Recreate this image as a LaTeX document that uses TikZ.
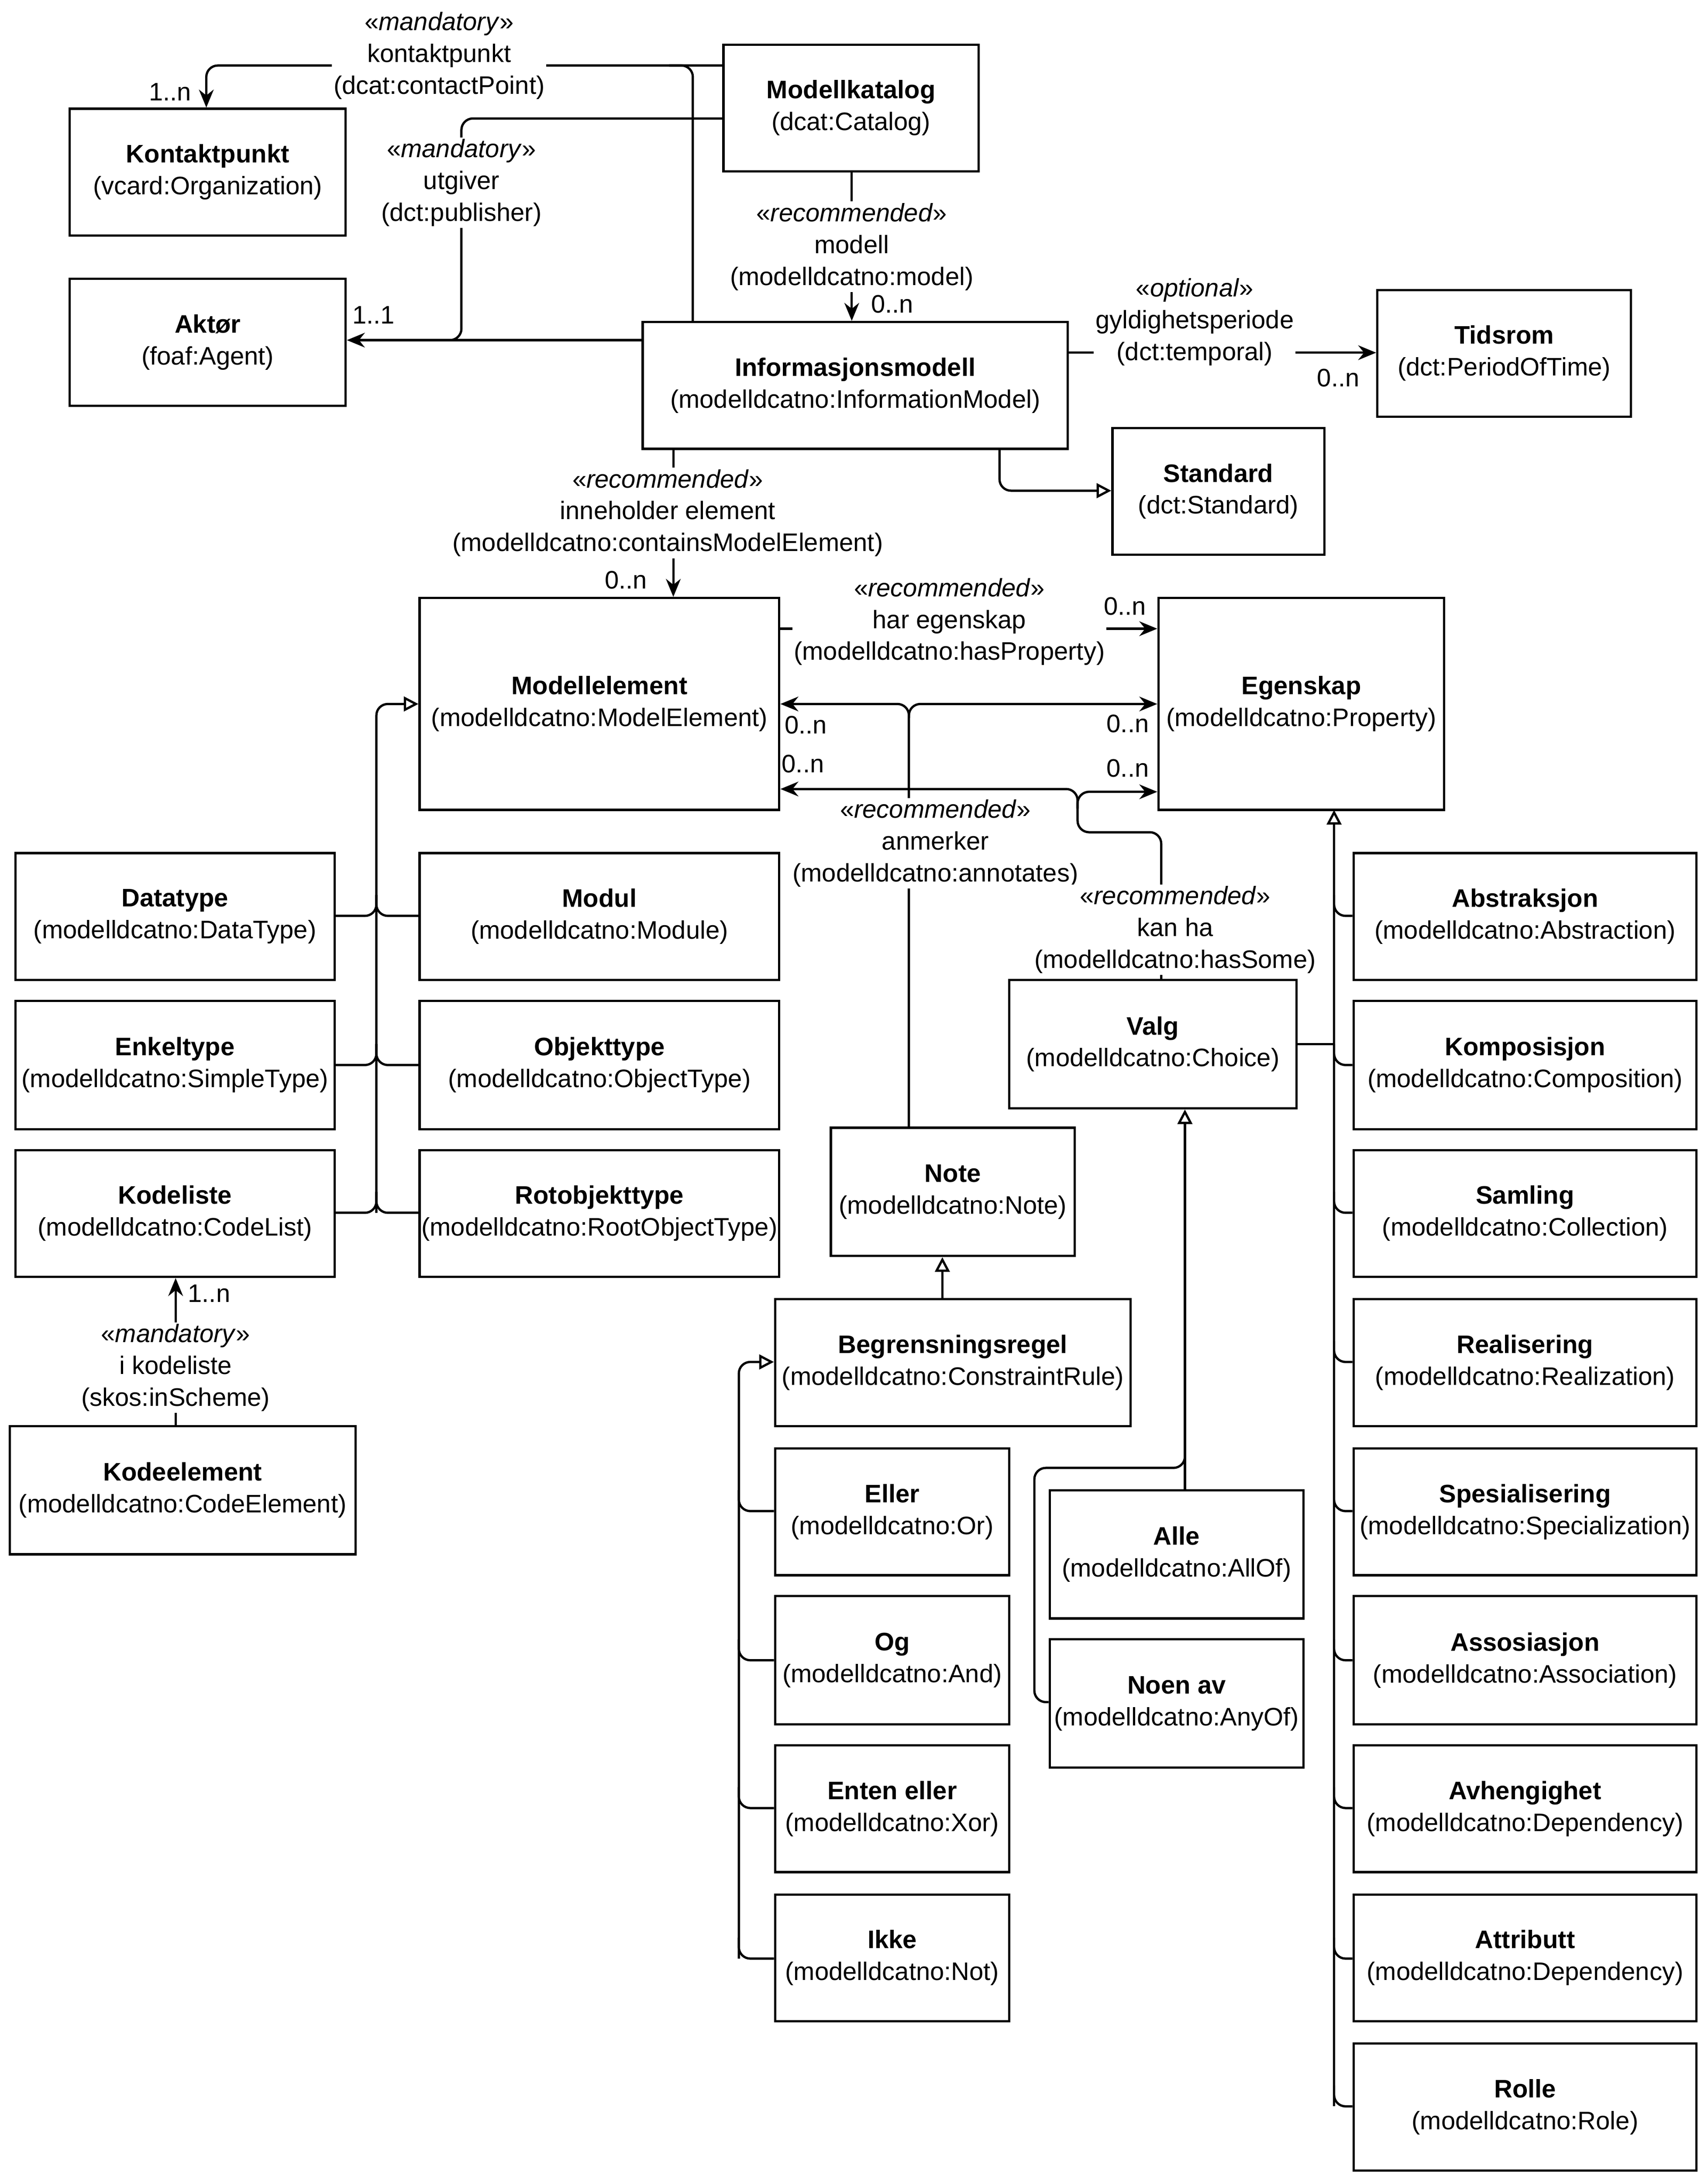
\documentclass[tikz,border=0pt]{standalone}
\usepackage{fontspec}
\setmainfont{Liberation Sans}
\usetikzlibrary{arrows.meta}
\begin{document}
\begin{tikzpicture}[x=0.03cm,y=-0.03cm,
  every node/.style={font=\fontsize{15.5}{19.5}\selectfont, align=center},
  bx/.style={draw, line width=1.4pt, inner sep=0pt},
  ln/.style={line width=1.4pt, rounded corners=7pt},
  ar/.style={ln, -{Stealth[length=11pt,width=9pt]}},
  dar/.style={ln, {Stealth[length=11pt,width=9pt]}-{Stealth[length=11pt,width=9pt]}},
  gen/.style={ln, -{Triangle[open,length=9pt,width=9pt]}},
  lb/.style={fill=white, inner sep=1pt}]
\useasboundingbox (0,0) rectangle (1225,1566);
\newcommand\bx[7]{\node[bx, minimum width={(#4-#2)*0.03cm}, minimum height={(#5-#3)*0.03cm}] (#1) at ({(#2+#4)/2},{(#3+#5)/2}) {\textbf{#6}\\(#7)};}
\bx{mk}{519}{32}{702}{123}{Modellkatalog}{dcat:Catalog}
\bx{kp}{50}{78}{248}{169}{Kontaktpunkt}{vcard:Organization}
\bx{ak}{50}{200}{248}{291}{Aktør}{foaf:Agent}
\bx{im}{461}{231}{766}{322}{Informasjonsmodell}{modelldcatno:InformationModel}
\bx{ti}{988}{208}{1170}{299}{Tidsrom}{dct:PeriodOfTime}
\bx{st}{798}{307}{950}{398}{Standard}{dct:Standard}
\bx{me}{301}{429}{559}{581}{Modellelement}{modelldcatno:ModelElement}
\bx{eg}{831}{429}{1036}{581}{Egenskap}{modelldcatno:Property}
\bx{dt}{11}{612}{240}{703}{Datatype}{modelldcatno:DataType}
\bx{mo}{301}{612}{559}{703}{Modul}{modelldcatno:Module}
\bx{et}{11}{718}{240}{810}{Enkeltype}{modelldcatno:SimpleType}
\bx{ot}{301}{718}{559}{810}{Objekttype}{modelldcatno:ObjectType}
\bx{kl}{11}{825}{240}{916}{Kodeliste}{modelldcatno:CodeList}
\bx{ro}{301}{825}{559}{916}{Rotobjekttype}{modelldcatno:RootObjectType}
\bx{ke}{7}{1023}{255}{1115}{Kodeelement}{modelldcatno:CodeElement}
\bx{va}{724}{703}{930}{795}{Valg}{modelldcatno:Choice}
\bx{no}{596}{809}{771}{901}{Note}{modelldcatno:Note}
\bx{br}{556}{932}{811}{1023}{Begrensningsregel}{modelldcatno:ConstraintRule}
\bx{el}{556}{1039}{724}{1130}{Eller}{modelldcatno:Or}
\bx{og}{556}{1145}{724}{1237}{Og}{modelldcatno:And}
\bx{en}{556}{1252}{724}{1343}{Enten eller}{modelldcatno:Xor}
\bx{ik}{556}{1359}{724}{1450}{Ikke}{modelldcatno:Not}
\bx{al}{753}{1069}{935}{1161}{Alle}{modelldcatno:AllOf}
\bx{na}{753}{1176}{935}{1268}{Noen av}{modelldcatno:AnyOf}
\bx{r1}{971}{612}{1217}{703}{Abstraksjon}{modelldcatno:Abstraction}
\bx{r2}{971}{718}{1217}{810}{Komposisjon}{modelldcatno:Composition}
\bx{r3}{971}{825}{1217}{916}{Samling}{modelldcatno:Collection}
\bx{r4}{971}{932}{1217}{1023}{Realisering}{modelldcatno:Realization}
\bx{r5}{971}{1039}{1217}{1130}{Spesialisering}{modelldcatno:Specialization}
\bx{r6}{971}{1145}{1217}{1237}{Assosiasjon}{modelldcatno:Association}
\bx{r7}{971}{1252}{1217}{1343}{Avhengighet}{modelldcatno:Dependency}
\bx{r8}{971}{1359}{1217}{1450}{Attributt}{modelldcatno:Dependency}
\bx{r9}{971}{1466}{1217}{1557}{Rolle}{modelldcatno:Role}

% contact point
\draw[ar] (519,47) -- (148,47) -- (kp.north -| 148,0);
\draw[ln] (im.north -| 497,0) -- (497,47) -- (480,47);
\node[lb] (l1) at (315,40) {«\textit{mandatory}»\\kontaktpunkt\\(dcat:contactPoint)};
\node (c1) at (122,66) {1..n};
% publisher
\draw[ln] (519,85) -- (331,85) -- (331,244) -- (300,244);
\draw[ar] (im.west |- 0,244) -- (ak.east |- 0,244);
\node[lb] (l2) at (331,131) {«\textit{mandatory}»\\utgiver\\(dct:publisher)};
\node (c2) at (268,226) {1..1};
% model
\draw[ar] (mk.south -| 611,0) -- (im.north -| 611,0);
\node[lb] (l3) at (611,177) {«\textit{recommended}»\\modell\\(modelldcatno:model)};
\node (c3) at (640,218) {0..n};
% temporal
\draw[ar] (im.east |- 0,253) -- (ti.west |- 0,253);
\node[lb] (l4) at (857,231) {«\textit{optional}»\\gyldighetsperiode\\(dct:temporal)};
\node (c4) at (960,271) {0..n};
% standard
\draw[gen] (im.south -| 717,0) -- (717,352) -- (st.west |- 0,352);
% contains
\draw[ar] (im.south -| 483,0) -- (me.north -| 483,0);
\node[lb] (l5) at (479,368) {«\textit{recommended}»\\inneholder element\\(modelldcatno:containsModelElement)};
\node (c5) at (449,416) {0..n};
% hasProperty
\draw[ar] (me.east |- 0,451) -- (eg.west |- 0,451);
\node[lb] (l6) at (681,446) {«\textit{recommended}»\\har egenskap\\(modelldcatno:hasProperty)};
\node (c6) at (807,435) {0..n};
% annotates
\draw[ar] (no.north -| 652,0) -- (652,505) -- (me.east |- 0,505);
\draw[ar] (652,515) -- (652,505) -- (eg.west |- 0,505);
\node[lb] (l7) at (671,605) {«\textit{recommended}»\\anmerker\\(modelldcatno:annotates)};
\node (c7) at (578,520) {0..n};
\node (c8) at (809,519) {0..n};
% hasSome
\draw[ar] (va.north -| 833,0) -- (833,597) -- (773,597) -- (773,566) -- (me.east |- 0,566);
\draw[ar] (773,580) -- (773,568) -- (eg.west |- 0,568);
\node[lb] (l8) at (843,667) {«\textit{recommended}»\\kan ha\\(modelldcatno:hasSome)};
\node (c9) at (576,548) {0..n};
\node (c10) at (809,551) {0..n};
% generalization to Modellelement
\draw[gen] (270,870) -- (270,505) -- (me.west |- 0,505);
\foreach \n/\y in {dt/657,et/764,kl/870}{\draw[ln] (\n.east |- 0,\y) -- (270,\y) -- (270,\y-15);}
\foreach \n/\y in {mo/657,ot/764,ro/870}{\draw[ln] (\n.west |- 0,\y) -- (270,\y) -- (270,\y-15);}
% code list
\draw[ar] (ke.north -| 126,0) -- (kl.south -| 126,0);
\node[lb] (l9) at (126,981) {«\textit{mandatory}»\\i kodeliste\\(skos:inScheme)};
\node (c11) at (150,928) {1..n};
% note
\draw[gen] (br.north -| 676,0) -- (no.south -| 676,0);
% constraint rules
\draw[gen] (530,1405) -- (530,977) -- (br.west |- 0,977);
\foreach \n/\y in {el/1084,og/1191,en/1297,ik/1405}{\draw[ln] (\n.west |- 0,\y) -- (530,\y) -- (530,\y-15);}
% choice
\draw[gen] (al.north -| 850,0) -- (va.south -| 850,0);
\draw[ln] (na.west |- 0,1221) -- (742,1221) -- (742,1053) -- (850,1053) -- (850,1040);
% property
\draw[gen] (957,1511) -- (957,581);
\draw[ln] (va.east |- 0,749) -- (957,749);
\foreach \n/\y in {r1/657,r2/764,r3/870,r4/977,r5/1084,r6/1191,r7/1297,r8/1405,r9/1511}{\draw[ln] (\n.west |- 0,\y) -- (957,\y) -- (957,\y-15);}
\end{tikzpicture}
\end{document}
